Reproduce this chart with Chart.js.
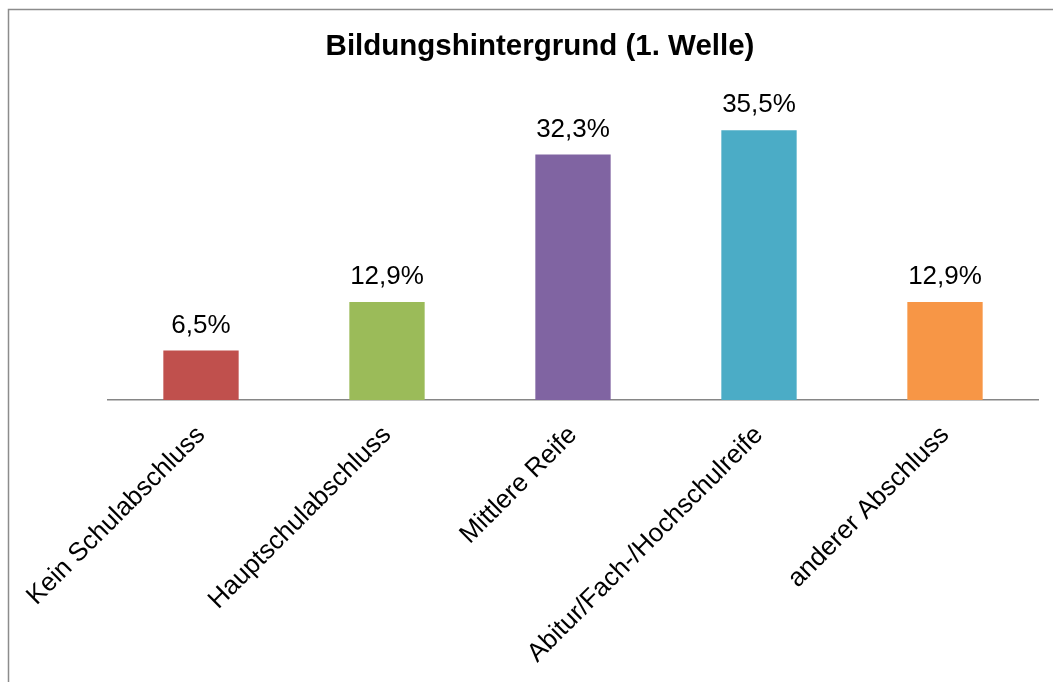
<!DOCTYPE html>
<html lang="de">
<head>
  <meta charset="UTF-8">
  <title>Bildungshintergrund (1. Welle)</title>
  <style>
    body { margin: 0; background: #fff; }
    canvas { display: block; }
  </style>
</head>
<body>
  <canvas id="chart" width="1053" height="682"></canvas>

  <script src="https://cdn.jsdelivr.net/npm/chart.js"></script>
  <script>
    const TITLE = 'Bildungshintergrund (1. Welle)';
    const KATEGORIEN = ['Kein Schulabschluss', 'Hauptschulabschluss', 'Mittlere Reife', 'Abitur/Fach-/Hochschulreife', 'anderer Abschluss'];
    const WERTE = [6.5, 12.9, 32.3, 35.5, 12.9];
    const FARBEN = ['#C0504D', '#9BBB59', '#8064A2', '#4BACC6', '#F79646'];

    const FONT = "'Liberation Sans', Arial, sans-serif";

    // Rahmen links/oben und Titel wie im Original
    const rahmen = {
      id: 'rahmen',
      beforeDraw(chart) {
        const ctx = chart.ctx;
        ctx.save();
        ctx.strokeStyle = '#8c8c8c';
        ctx.lineWidth = 1.5;
        ctx.beginPath();
        ctx.moveTo(8.5, chart.height);
        ctx.lineTo(8.5, 9.5);
        ctx.lineTo(chart.width, 9.5);
        ctx.stroke();

        ctx.font = 'bold 29.5px ' + FONT;
        ctx.fillStyle = '#000';
        ctx.textAlign = 'center';
        ctx.textBaseline = 'middle';
        ctx.fillText(TITLE, 540, 47);
        ctx.restore();
      }
    };

    // Prozentwerte über den Balken
    const werteLabels = {
      id: 'werteLabels',
      afterDatasetsDraw(chart) {
        const ctx = chart.ctx;
        const meta = chart.getDatasetMeta(0);
        ctx.save();
        ctx.font = '26px ' + FONT;
        ctx.fillStyle = '#000';
        ctx.textAlign = 'center';
        ctx.textBaseline = 'alphabetic';
        meta.data.forEach((bar, i) => {
          const txt = WERTE[i].toFixed(1).replace('.', ',') + '%';
          ctx.fillText(txt, bar.x, bar.y - 18);
        });
        ctx.restore();
      }
    };

    new Chart(document.getElementById('chart'), {
      type: 'bar',
      data: {
        labels: KATEGORIEN,
        datasets: [{
          data: WERTE,
          backgroundColor: FARBEN,
          categoryPercentage: 1,
          barPercentage: 0.405
        }]
      },
      options: {
        responsive: false,
        animation: false,
        devicePixelRatio: 1,
        layout: { padding: { left: 108, right: 15, top: 96, bottom: 0 } },
        plugins: {
          legend: { display: false },
          tooltip: { enabled: false },
          title: { display: false }
        },
        scales: {
          x: {
            grid: { display: false, drawTicks: false },
            border: { display: true, color: '#868686', width: 1.5 },
            ticks: {
              color: '#000',
              font: { family: FONT, size: 26 },
              minRotation: 45,
              maxRotation: 45,
              autoSkip: false,
              padding: 20
            },
            afterFit(scale) {
              scale.height = 282;
              scale.paddingLeft = 0;
              scale.paddingRight = 0;
            }
          },
          y: {
            display: false,
            min: 0,
            max: 40
          }
        }
      },
      plugins: [rahmen, werteLabels]
    });
  </script>
</body>
</html>
